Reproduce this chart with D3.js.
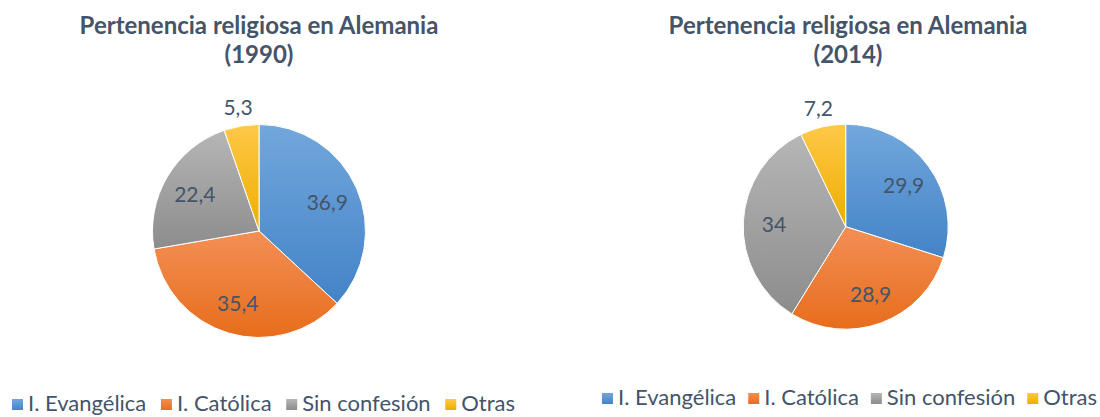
<!DOCTYPE html>
<html>
<head>
<meta charset="utf-8">
<script src="https://cdn.jsdelivr.net/npm/d3@7"></script>
<style>
  html, body { margin: 0; padding: 0; background: #fff; }
  svg { display: block; }
  text { font-family: Lato, "Open Sans", sans-serif; fill: #44546a; }
</style>
</head>
<body>
<svg id="chart" width="1100" height="417"></svg>
<script>
const categories = ["I. Evangélica", "I. Católica", "Sin confesión", "Otras"];
const titleText = "Pertenencia religiosa en Alemania";
const years = ["1990", "2014"];
const values1990 = [36.9, 35.4, 22.4, 5.3];
const values2014 = [29.9, 28.9, 34, 7.2];
const colorsTop = ["#72a7dc", "#f38f55", "#b6b6b6", "#ffc848"];
const colorsBottom = ["#4383c7", "#e76d1c", "#8c8c8c", "#ecae00"];

const svg = d3.select("#chart");
const defs = svg.append("defs");
categories.forEach((c, i) => {
  const g = defs.append("linearGradient").attr("id", "grad" + i)
    .attr("x1", 0).attr("y1", 0).attr("x2", 0).attr("y2", 1);
  g.append("stop").attr("offset", "0%").attr("stop-color", colorsTop[i]);
  g.append("stop").attr("offset", "100%").attr("stop-color", colorsBottom[i]);
});

const fmt = v => String(v).replace(".", ",");

const panels = [
  { year: years[0], values: values1990, cx: 259, cy: 231, r: 106.5, titleX: 259, legendX: 12, legendY: 411, legendW: 503 },
  { year: years[1], values: values2014, cx: 845.7, cy: 226.7, r: 102.5, titleX: 848, legendX: 602, legendY: 405, legendW: 495 }
];

const pie = d3.pie().sort(null).value(d => d);

panels.forEach(p => {
  const g = svg.append("g");
  // title
  const t = g.append("text").attr("text-anchor", "middle")
    .style("font-weight", "bold").style("font-size", "24px");
  t.append("tspan").attr("x", p.titleX).attr("y", 34).text(titleText);
  t.append("tspan").attr("x", p.titleX).attr("y", 63).text("(" + p.year + ")");

  const arcs = pie(p.values);
  const arc = d3.arc().innerRadius(0).outerRadius(p.r);
  const pg = g.append("g").attr("transform", `translate(${p.cx},${p.cy})`);
  pg.selectAll("path").data(arcs).enter().append("path")
    .attr("d", arc)
    .attr("fill", (d, i) => `url(#grad${i})`)
    .attr("stroke", "#fff").attr("stroke-width", 1);

  pg.selectAll("text.lbl").data(arcs).enter().append("text")
    .attr("class", "lbl")
    .attr("text-anchor", "middle")
    .attr("dominant-baseline", "central")
    .style("font-size", "21px")
    .attr("transform", d => {
      const a = (d.startAngle + d.endAngle) / 2;
      const rr = d.data < 10 ? p.r * 1.19 : p.r * 0.7;
      return `translate(${Math.sin(a) * rr},${-Math.cos(a) * rr})`;
    })
    .text(d => fmt(d.data));

  // legend
  const lg = g.append("g");
  const items = [];
  let textTotal = 0;
  categories.forEach((c, i) => {
    const rect = lg.append("rect").attr("y", p.legendY - 12).attr("width", 11).attr("height", 11)
      .attr("fill", `url(#grad${i})`);
    const tx = lg.append("text").attr("y", p.legendY).style("font-size", "22px").text(c);
    const w = tx.node().getComputedTextLength();
    textTotal += w;
    items.push({ rect, tx, w });
  });
  const fixed = items.length * 16;
  const between = Math.max(6, (p.legendW - fixed - textTotal) / (items.length - 1));
  let x = p.legendX;
  items.forEach(it => {
    it.rect.attr("x", x);
    it.tx.attr("x", x + 16);
    x += 16 + it.w + between;
  });
});
</script>
</body>
</html>
